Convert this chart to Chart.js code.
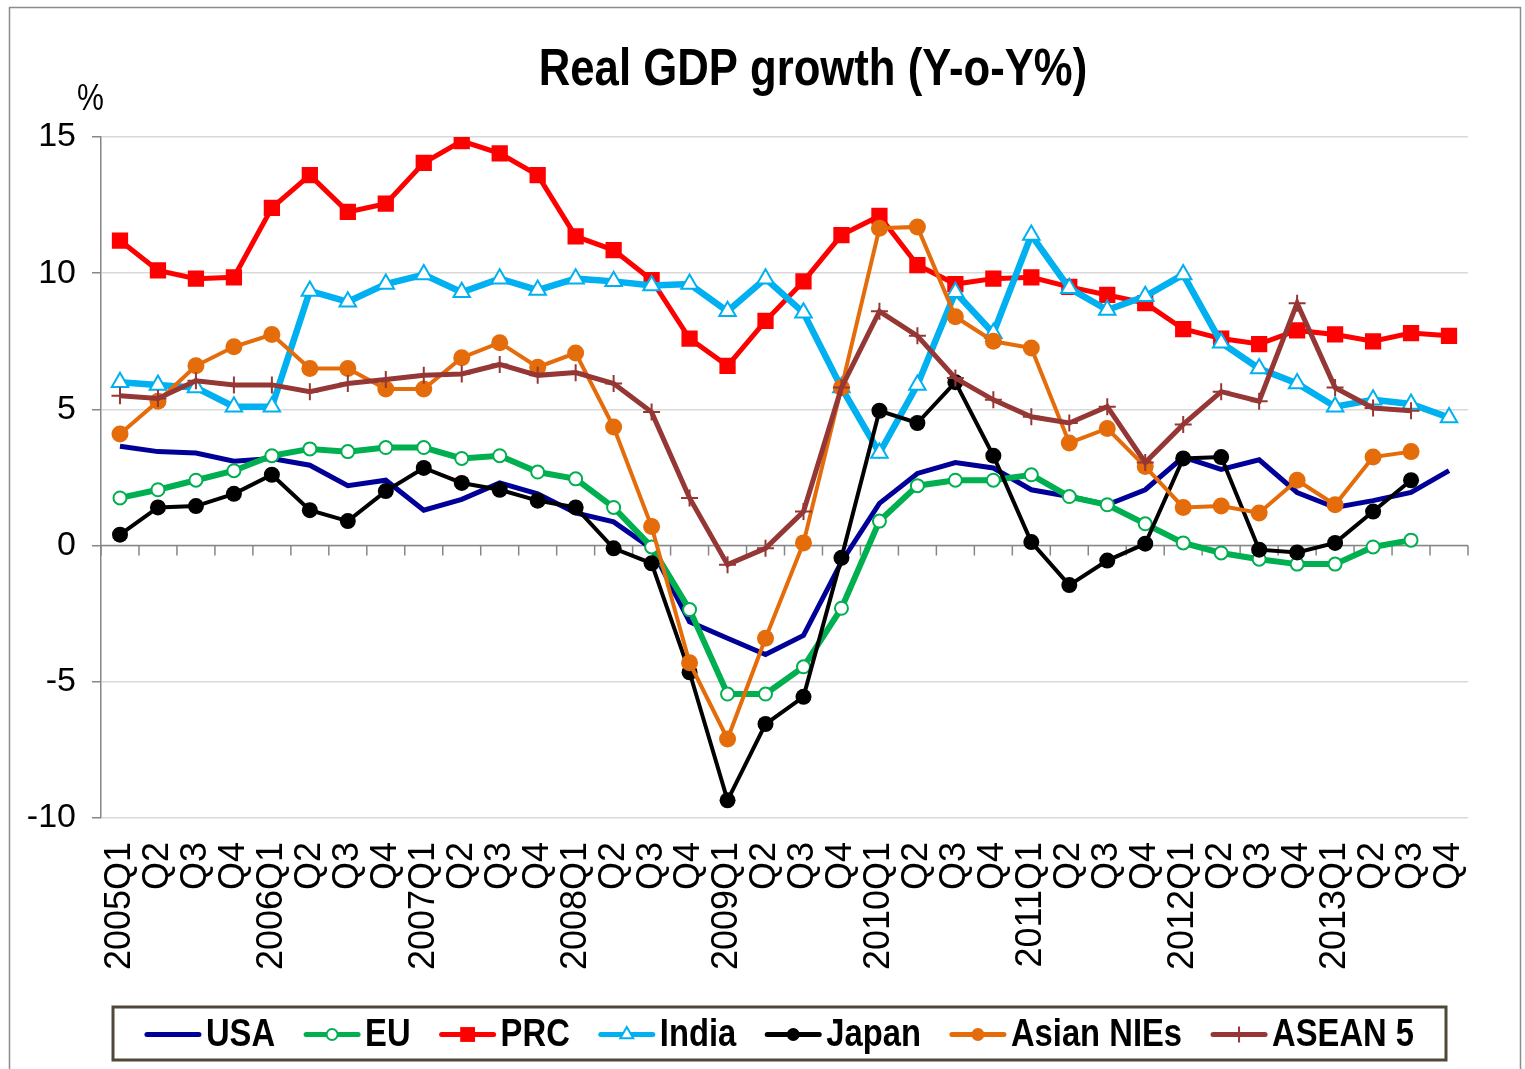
<!DOCTYPE html>
<html>
<head>
<meta charset="utf-8">
<title>Real GDP growth (Y-o-Y%)</title>
<script src="https://cdn.jsdelivr.net/npm/chart.js@4.4.1/dist/chart.umd.min.js"></script>
<style>
  html, body { margin: 0; padding: 0; background: #fff; }
</style>
</head>
<body>
<canvas id="gdpChart" width="1525" height="1069"></canvas>
<script>
const quarters = [
    '2005Q1', 'Q2', 'Q3', 'Q4', '2006Q1', 'Q2', 'Q3', 'Q4',
    '2007Q1', 'Q2', 'Q3', 'Q4', '2008Q1', 'Q2', 'Q3', 'Q4',
    '2009Q1', 'Q2', 'Q3', 'Q4', '2010Q1', 'Q2', 'Q3', 'Q4',
    '2011Q1', 'Q2', 'Q3', 'Q4', '2012Q1', 'Q2', 'Q3', 'Q4',
    '2013Q1', 'Q2', 'Q3', 'Q4'
];
const yTicks = [-10, -5, 0, 5, 10, 15];

const usa = [3.65, 3.45, 3.4, 3.1, 3.2, 2.95, 2.2, 2.4, 1.3, 1.7, 2.3, 1.9,
    1.2, 0.87, -0.1, -2.8, -3.4, -4.0, -3.3, -0.6, 1.55, 2.65, 3.05, 2.85,
    2.05, 1.8, 1.5, 2.05, 3.25, 2.8, 3.15, 1.95, 1.4, 1.65, 1.95, 2.75];
const eu = [1.75, 2.05, 2.4, 2.75, 3.3, 3.55, 3.45, 3.6, 3.6, 3.2, 3.3, 2.7,
    2.45, 1.4, -0.05, -2.35, -5.45, -5.45, -4.45, -2.3, 0.9, 2.2, 2.4, 2.4,
    2.6, 1.8, 1.5, 0.8, 0.1, -0.27, -0.5, -0.68, -0.68, -0.05, 0.2, null];
const prc = [11.2, 10.1, 9.8, 9.85, 12.4, 13.6, 12.25, 12.55, 14.05, 14.85, 14.4, 13.6,
    11.35, 10.85, 9.75, 7.6, 6.6, 8.25, 9.7, 11.4, 12.1, 10.3, 9.6, 9.8,
    9.85, 9.5, 9.2, 8.9, 7.95, 7.6, 7.4, 7.9, 7.75, 7.5, 7.8, 7.7];
const india = [6.0, 5.9, 5.8, 5.1, 5.1, 9.35, 8.95, 9.6, 9.95, 9.3, 9.8, 9.38,
    9.8, 9.7, 9.55, 9.6, 8.6, 9.8, 8.55, 5.8, 3.4, 5.9, 9.3, 7.8,
    11.4, 9.45, 8.65, 9.15, 9.95, 7.45, 6.5, 5.95, 5.1, 5.35, 5.2, 4.7];
const japan = [0.4, 1.4, 1.45, 1.9, 2.6, 1.3, 0.9, 2.0, 2.85, 2.3, 2.05, 1.65,
    1.4, -0.1, -0.65, -4.65, -9.35, -6.55, -5.55, -0.45, 4.95, 4.5, 6.0, 3.3,
    0.13, -1.45, -0.55, 0.07, 3.2, 3.25, -0.15, -0.25, 0.1, 1.25, 2.4, null];
const nies = [4.1, 5.3, 6.6, 7.3, 7.75, 6.5, 6.5, 5.75, 5.75, 6.9, 7.45, 6.55,
    7.07, 4.35, 0.7, -4.3, -7.1, -3.4, 0.1, 5.8, 11.65, 11.7, 8.4, 7.5,
    7.25, 3.77, 4.3, 2.9, 1.4, 1.45, 1.2, 2.4, 1.5, 3.25, 3.45, null];
const asean = [5.5, 5.4, 6.05, 5.9, 5.9, 5.65, 5.95, 6.1, 6.25, 6.3, 6.65, 6.25,
    6.35, 5.95, 4.9, 1.75, -0.7, -0.1, 1.25, 5.8, 8.6, 7.7, 6.15, 5.35,
    4.73, 4.5, 5.1, 3.05, 4.45, 5.65, 5.3, 8.9, 5.8, 5.05, 4.95, null];

const FONT = '"Liberation Sans", Arial, sans-serif';
// the original uses a narrow face; squeeze regular text horizontally
const NARROW_X = 0.84;

function series(label, data, color, width, marker) {
    return Object.assign({
        label: label,
        data: data,
        borderColor: color,
        backgroundColor: color,
        borderWidth: width,
        tension: 0,
        pointRadius: 0,
        pointBorderWidth: 0,
        pointBackgroundColor: color,
        pointBorderColor: color
    }, marker);
}

let datasets = [
    series('USA', usa, '#000099', 5, {}),
    series('EU', eu, '#00b050', 6, { pointStyle: 'circle', pointRadius: 6.5, pointBorderWidth: 2, pointBackgroundColor: '#ffffff',
        legendMarker: { pointStyle: 'circle', radius: 5.5, borderWidth: 2, fill: '#ffffff' } }),
    series('PRC', prc, '#ff0000', 5, { pointStyle: 'rect', pointRadius: 11.5,
        legendMarker: { pointStyle: 'rect', radius: 10.5, borderWidth: 0, fill: '#ff0000' } }),
    series('India', india, '#00b0f0', 6.5, { pointStyle: 'triangle', pointRadius: 9.5, pointBorderWidth: 2, pointBackgroundColor: '#ffffff',
        legendMarker: { pointStyle: 'triangle', radius: 7.5, borderWidth: 2, fill: '#ffffff' } }),
    series('Japan', japan, '#000000', 4, { pointStyle: 'circle', pointRadius: 8,
        legendMarker: { pointStyle: 'circle', radius: 6.5, borderWidth: 0, fill: '#000000' } }),
    series('Asian NIEs', nies, '#e46c0a', 4, { pointStyle: 'circle', pointRadius: 8.5,
        legendMarker: { pointStyle: 'circle', radius: 6.5, borderWidth: 0, fill: '#e46c0a' } }),
    series('ASEAN 5', asean, '#953735', 5, { pointStyle: 'cross', pointRadius: 8.5, pointBorderWidth: 2,
        legendMarker: { pointStyle: 'cross', radius: 8, borderWidth: 2, fill: '#953735' } })
];
// Excel draws later series on top
datasets.forEach((ds, i) => { ds.order = datasets.length - i; });

function squeezedText(ctx, text, x, y) {
    ctx.save();
    ctx.translate(x, y);
    ctx.scale(NARROW_X, 1);
    ctx.fillText(text, 0, 0);
    ctx.restore();
}

// title, % label, outer frame, zero axis with ticks, boxed legend
const decorations = {
    id: 'decorations',
    beforeDraw(chart) {
        const ctx = chart.ctx;
        ctx.save();
        ctx.fillStyle = '#ffffff';
        ctx.fillRect(0, 0, chart.width, chart.height);
        ctx.strokeStyle = '#8c8c8c';
        ctx.lineWidth = 1.5;
        ctx.strokeRect(9.5, 7.5, 1511, 1080);
        ctx.fillStyle = '#000000';
        ctx.textAlign = 'center';
        ctx.textBaseline = 'alphabetic';
        ctx.font = 'bold 52px ' + FONT;
        squeezedText(ctx, 'Real GDP growth (Y-o-Y%)', 813, 85);
        ctx.textAlign = 'left';
        ctx.font = '36px ' + FONT;
        squeezedText(ctx, '%', 77, 110);
        ctx.restore();
    },
    beforeDatasetsDraw(chart) {
        const ctx = chart.ctx;
        const xs = chart.scales.x;
        const y0 = chart.scales.y.getPixelForValue(0);
        ctx.save();
        ctx.strokeStyle = '#868686';
        ctx.lineWidth = 1.5;
        ctx.beginPath();
        ctx.moveTo(chart.chartArea.left, y0);
        ctx.lineTo(chart.chartArea.right, y0);
        for (let i = 0; i <= quarters.length; i++) {
            const x = xs.getPixelForValue(i - 0.5);
            ctx.moveTo(x, y0);
            ctx.lineTo(x, y0 + 10);
        }
        ctx.stroke();
        ctx.restore();
    },
    afterDraw(chart) {
        const ctx = chart.ctx;
        const box = { x: 113, y: 1007, w: 1333, h: 53 };
        ctx.save();
        ctx.strokeStyle = '#4d4837';
        ctx.lineWidth = 3;
        ctx.strokeRect(box.x, box.y, box.w, box.h);

        ctx.font = 'bold 39px ' + FONT;
        const lineLen = 56, textGap = 5, itemGap = 29;
        const items = chart.data.datasets;
        const widths = items.map(ds => ctx.measureText(ds.label).width * NARROW_X);
        let total = itemGap * (items.length - 1);
        widths.forEach(w => { total += lineLen + textGap + w; });
        let x = box.x + (box.w - total) / 2;
        const cy = box.y + box.h / 2 + 1;

        items.forEach((ds, i) => {
            ctx.strokeStyle = ds.borderColor;
            ctx.lineWidth = 5;
            ctx.lineCap = 'round';
            ctx.beginPath();
            ctx.moveTo(x + 2, cy);
            ctx.lineTo(x + lineLen - 2, cy);
            ctx.stroke();
            ctx.lineCap = 'butt';
            if (ds.legendMarker) {
                const m = ds.legendMarker;
                ctx.fillStyle = m.fill;
                ctx.strokeStyle = ds.borderColor;
                ctx.lineWidth = m.borderWidth;
                Chart.helpers.drawPoint(ctx, { pointStyle: m.pointStyle, radius: m.radius, borderWidth: m.borderWidth, rotation: 0 },
                    x + lineLen / 2, cy);
            }
            ctx.fillStyle = '#000000';
            ctx.textAlign = 'left';
            ctx.textBaseline = 'middle';
            squeezedText(ctx, ds.label, x + lineLen + textGap, cy + 1);
            x += lineLen + textGap + widths[i] + itemGap;
        });
        ctx.restore();
    }
};

const ctx = document.getElementById('gdpChart').getContext('2d');

const gdpChart = new Chart(ctx, {
    type: 'line',
    data: {
        labels: quarters,
        datasets: datasets
    },
    options: {
        responsive: false,
        animation: false,
        layout: {
            padding: { top: 137, left: 0, right: 57, bottom: 0 }
        },
        plugins: {
            legend: { display: false },
            title: { display: false },
            tooltip: { enabled: false }
        },
        scales: {
            x: {
                offset: true,
                grid: { display: false, drawTicks: false },
                border: { display: false },
                ticks: {
                    autoSkip: false,
                    minRotation: 90,
                    maxRotation: 90,
                    padding: 24,
                    color: '#000000',
                    font: { family: FONT, size: 36 }
                },
                afterFit: (scale) => { scale.height = 251; }
            },
            y: {
                min: -10,
                max: 15,
                afterBuildTicks: (scale) => { scale.ticks = yTicks.map(v => ({ value: v })); },
                grid: {
                    color: '#d9d9d9',
                    lineWidth: 1.5,
                    tickColor: '#868686',
                    tickLength: 9
                },
                border: { color: '#868686', width: 1.5 },
                ticks: {
                    padding: 16,
                    color: '#000000',
                    font: { family: FONT, size: 34 }
                },
                afterFit: (scale) => { scale.width = 101; }
            }
        }
    },
    plugins: [decorations]
});
</script>
</body>
</html>
